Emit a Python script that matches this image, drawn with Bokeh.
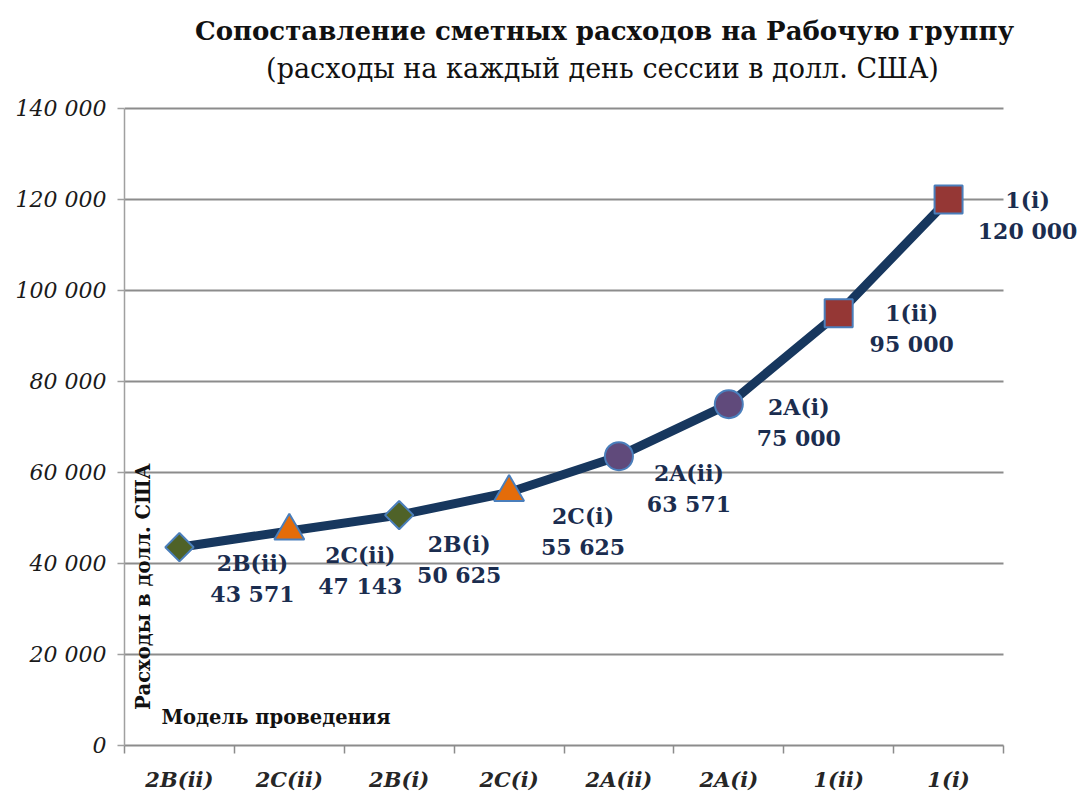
from bokeh.plotting import figure
from bokeh.models import Range1d, FixedTicker, Label
from bokeh.embed import file_html
from bokeh.resources import INLINE
import math

# ---- data ----
models = ["2B(ii)", "2C(ii)", "2B(i)", "2C(i)", "2A(ii)", "2A(i)", "1(ii)", "1(i)"]
costs = [43571, 47143, 50625, 55625, 63571, 75000, 95000, 120000]
cost_text = ["43 571", "47 143", "50 625", "55 625", "63 571", "75 000", "95 000", "120 000"]
y_ticks = [0, 20000, 40000, 60000, 80000, 100000, 120000, 140000]
y_tick_labels = ["0", "20 000", "40 000", "60 000", "80 000", "100 000", "120 000", "140 000"]
title = "Сопоставление сметных расходов на Рабочую группу"
subtitle = "(расходы на каждый день сессии в долл. США)"
y_title = "Расходы в долл. США"
x_title = "Модель проведения"

# ---- styling ----
family_style = {
    "2B": ("square", "#4F6228", 20, math.pi / 4),
    "2C": ("triangle", "#E46C0A", 30, 0.0),
    "2A": ("circle", "#604A7B", 28, 0.0),
    "1": ("square", "#953735", 28, 0.0),
}
label_dx = [73, 71, 60, 74, 70, 70, 73, 79]     # px right of point
name_dy = [16, 24, 29, 24, 17, 3, 0, 1]          # px below point
LINE_GAP = 31

SERIF = "DejaVu Serif"
NAVY = "#17375E"
LABEL_NAVY = "#1B2D4F"
GRID = "#8C8C8C"

n = len(models)
xs = [i + 0.5 for i in range(n)]

# frame: left 124px, right to window edge, top at window edge, bottom 48px
W, H = 1081, 794
FL, FB = 124, 48
px_x = 879 / n                # px per category
px_y = 638 / 140000           # px per dollar
x_end = (W - FL) / px_x
y_end = (H - FB) / px_y

p = figure(width=W, height=H, output_backend="svg", toolbar_location=None,
           x_range=Range1d(0, x_end), y_range=Range1d(0, y_end),
           min_border_left=FL, min_border_right=0, min_border_top=0,
           min_border_bottom=FB, outline_line_color=None)

# x axis: labels at category centres, tick marks at category boundaries
p.xaxis.bounds = (0, n)
p.xaxis.ticker = FixedTicker(ticks=xs, minor_ticks=list(range(n + 1)))
p.xaxis.major_label_overrides = {x: m for x, m in zip(xs, models)}
p.xaxis.major_tick_out = 0
p.xaxis.major_tick_in = 0
p.xaxis.minor_tick_out = 8
p.xaxis.minor_tick_in = 0
p.xaxis.minor_tick_line_color = GRID
p.xaxis.minor_tick_line_width = 1.5
p.xaxis.axis_line_color = GRID
p.xaxis.axis_line_width = 2
p.xaxis.major_label_standoff = 13
p.xaxis.major_label_text_font = SERIF
p.xaxis.major_label_text_font_style = "bold italic"
p.xaxis.major_label_text_font_size = "21px"
p.xaxis.major_label_text_color = "#262626"

p.yaxis.bounds = (0, 140000)
p.yaxis.ticker = FixedTicker(ticks=y_ticks, minor_ticks=[])
p.yaxis.major_label_overrides = {t: l for t, l in zip(y_ticks, y_tick_labels)}
p.yaxis.major_tick_out = 7
p.yaxis.major_tick_in = 0
p.yaxis.major_tick_line_color = "#A0A0A0"
p.yaxis.major_tick_line_width = 1.5
p.yaxis.axis_line_color = "#A0A0A0"
p.yaxis.axis_line_width = 1.5
p.yaxis.major_label_standoff = 11
p.yaxis.major_label_text_font = SERIF
p.yaxis.major_label_text_font_style = "italic"
p.yaxis.major_label_text_font_size = "22px"
p.yaxis.major_label_text_color = "#1A1A1A"

p.xgrid.grid_line_color = None
p.ygrid.grid_line_color = None
grid_tick_vals = y_ticks[1:]
g = p.ygrid[0]
if "cross_bounds" in g.properties():
    g.ticker = FixedTicker(ticks=grid_tick_vals)
    g.cross_bounds = (0, n)
    g.grid_line_color = GRID
    g.grid_line_width = 2
else:
    p.segment(x0=[0] * len(grid_tick_vals), x1=[n] * len(grid_tick_vals),
              y0=grid_tick_vals, y1=grid_tick_vals, line_color=GRID, line_width=2)

# line
p.line(xs, costs, line_color=NAVY, line_width=9, line_join="round")

# markers per model family
for fam, (mk, col, sz, ang) in family_style.items():
    idx = [i for i, m in enumerate(models) if m.split("(")[0] == fam]
    p.scatter([xs[i] for i in idx], [costs[i] for i in idx], marker=mk, size=sz,
              angle=ang, fill_color=col, line_color="#4A7EBB", line_width=2)

# data labels (two lines each)
for x, y, nm, vt, ddx, ddy in zip(xs, costs, models, cost_text, label_dx, name_dy):
    for txt, off in ((nm, ddy), (vt, ddy + LINE_GAP)):
        p.add_layout(Label(x=x, y=y, text=txt, x_offset=ddx, y_offset=-off,
                           text_align="center", text_baseline="middle",
                           text_font=SERIF, text_font_style="bold",
                           text_font_size="22px", text_color=LABEL_NAVY))

# titles and inner axis captions (placed in screen px converted to data)
def dx_(px):
    return (px - FL) / px_x

def dy_(py):
    return (H - FB - py) / px_y

p.add_layout(Label(x=dx_(604), y=dy_(31), text=title,
                   text_align="center", text_baseline="middle", text_font=SERIF,
                   text_font_style="bold", text_font_size="26px", text_color="#111111"))
p.add_layout(Label(x=dx_(602), y=dy_(68), text=subtitle,
                   text_align="center", text_baseline="middle", text_font=SERIF,
                   text_font_size="27px", text_color="#111111"))
p.add_layout(Label(x=dx_(143), y=dy_(587), text=y_title, angle=math.pi / 2,
                   text_align="center", text_baseline="middle", text_font=SERIF,
                   text_font_style="bold", text_font_size="19.5px", text_color="#111111"))
p.add_layout(Label(x=dx_(161), y=dy_(718), text=x_title,
                   text_align="left", text_baseline="middle", text_font=SERIF,
                   text_font_style="bold", text_font_size="19.5px", text_color="#111111"))

open("out.html", "w").write(file_html(p, INLINE))
